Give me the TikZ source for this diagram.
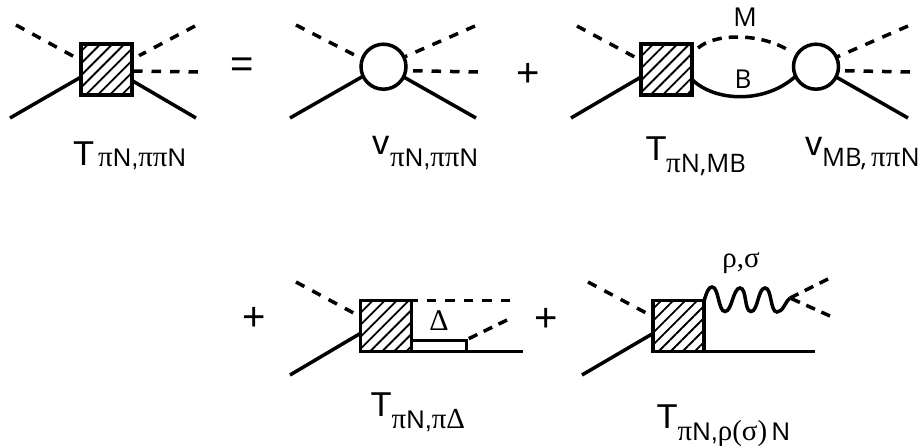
\documentclass[tikz,border=0pt]{standalone}
\usepackage{fontspec}
\setmainfont{Liberation Sans}
\newfontfamily\gk{Liberation Serif}
\newfontfamily\os{Open Sans}
\usetikzlibrary{patterns.meta}
\newcommand{\bigT}{\fontsize{34.5}{34.5}\selectfont}
\newcommand{\subt}{\fontsize{25.5}{25.5}\selectfont}
\newcommand{\pig}{{\gk\fontsize{29}{29}\selectfont π}}
\tikzset{
  x=1pt,y=-1pt,
  solidl/.style={line width=3.5pt,line cap=butt},
  dashl/.style={line width=3.5pt,dash pattern=on 9.5pt off 9pt},
  thinl/.style={line width=3pt},
  boxn/.style={draw,line width=3.6pt,outer sep=0pt,minimum size=51pt,inner sep=0pt,
    pattern={Lines[angle=45,distance=8.5pt,line width=1.8pt]}},
  circn/.style={draw,circle,line width=3.5pt,outer sep=0pt,minimum size=45pt,inner sep=0pt},
  lab/.style={inner sep=0pt,anchor=base west},
  opn/.style={inner sep=0pt,font=\fontsize{40}{40}\selectfont},
  lett/.style={inner sep=0pt,font=\fontsize{26}{26}\selectfont},
}
\begin{document}
\begin{tikzpicture}
\useasboundingbox (0,0) rectangle (919,445);
% row 1, term 1
\node[boxn] (b1) at (106.5,69.7) {};
\coordinate (a1) at (16,25); \coordinate (a2) at (10,118);
\coordinate (a3) at (195,26); \coordinate (a4) at (198,72); \coordinate (a5) at (196,118);
\draw[dashl,shorten >=7pt] (a1) -- (b1.160);
\draw[solidl] (a2) -- (b1.196);
\draw[dashl,shorten >=8pt] (a3) -- (b1.22);
\draw[dashl] (a4) -- (b1.-3);
\draw[solidl] (a5) -- (b1.-23);
\node[lab] (t1) at (73,165) {\bigT T};
\node[lab] (s1) at (98,166) {\subt\pig N,\pig\pig N};
\node[opn] (eq) at (242,68) {=};
% term 2
\node[circn] (c2) at (383.5,66.7) {};
\coordinate (d1) at (296,25); \coordinate (d2) at (290,118);
\coordinate (d3) at (475,26); \coordinate (d4) at (478,72); \coordinate (d5) at (476,118);
\draw[dashl,shorten >=7pt] (d1) -- (c2.160);
\draw[solidl] (d2) -- (c2.205);
\draw[dashl] (d3) -- (c2.25);
\draw[dashl,shorten >=5pt] (d4) -- (c2.-10);
\draw[solidl] (d5) -- (c2.-27);
\node[lab] (t2) at (372,154) {\bigT v};
\node[lab] (s2) at (390,166) {\subt\pig N,\pig\pig N};
\node[opn] (pl1) at (528,75) {+};
% term 3
\node[boxn] (b3) at (666.5,69.7) {};
\node[circn] (c3) at (816,66.7) {};
\coordinate (e1) at (577,26); \coordinate (e2) at (571,118);
\coordinate (e3) at (908,26); \coordinate (e4) at (910,72); \coordinate (e5) at (908,118);
\draw[dashl,shorten >=7pt] (e1) -- (b3.160);
\draw[solidl] (e2) -- (b3.196);
\coordinate (m1) at (698,48); \coordinate (m2) at (788,50);
\draw[line width=3.5pt,dash pattern=on 9.5pt off 7pt] (m1) .. controls (715,33) and (760,33) .. (m2);
\draw[solidl] (b3.-21) .. controls (715,102) and (765,104) .. (c3.205);
\draw[dashl] (e3) -- (c3.25);
\draw[dashl,shorten >=5pt] (e4) -- (c3.-10);
\draw[solidl] (e5) -- (c3.-27);
\node[lett] (mm) at (745,17) {\os M};
\node[lett] (bb) at (743,79) {\os B};
\node[lab] (t3) at (645.5,160) {\bigT T};
\node[lab] (s3) at (666,172) {\subt\pig{\os N,MB}};
\node[lab] (t3b) at (805,155) {\bigT v};
\node[lab] (s3b) at (822,166) {\subt{\os MB,\,}\pig\pig{\os N}};
% row 2, term 4
\node[opn] (pl2) at (254,319) {+};
\node[boxn] (b4) at (386,326) {};
\coordinate (f1) at (296,282); \coordinate (f2) at (290,375);
\coordinate (f3) at (510,300.5); \coordinate (f4) at (507,320); \coordinate (f5) at (523,351.5);
\coordinate (dl) at (413,340); \coordinate (dr) at (466,340); \coordinate (dq) at (466,351.5);
\draw[dashl,shorten >=7pt] (f1) -- (b4.160);
\draw[solidl] (f2) -- (b4.196);
\draw[dashl] (f3) -- (b4.north east);
\draw[thinl] (dl) -- (dr) -- (dq);
\draw[dashl,dash pattern=on 9.5pt off 7pt] (f4) -- (dr);
\draw[thinl] (b4.south east) -- (f5);
\node[inner sep=0pt,font=\gk\fontsize{30}{30}\selectfont] (dt) at (439,321) {Δ};
\node[lab] (t4) at (370.5,416) {\bigT T};
\node[lab] (s4) at (391.5,428) {\subt\pig N,\pig{\gk\fontsize{29}{29}\selectfont Δ}};
\node[opn] (pl3) at (546,320) {+};
% term 5
\node[boxn] (b5) at (678.7,326) {};
\coordinate (g1) at (588,282); \coordinate (g2) at (582,375);
\coordinate (g3) at (828,279); \coordinate (g4) at (830,316); \coordinate (g5) at (815,351.5);
\coordinate (w) at (790,298);
\draw[dashl,shorten >=7pt] (g1) -- (b5.160);
\draw[solidl] (g2) -- (b5.196);
\draw[thinl] (b5.south east) -- (g5);
\draw[solidl] (b5.north east) .. controls (707,291) and (709,287) .. (712,287)
  .. controls (719,287) and (718,311.5) .. (725,311.5)
  .. controls (732,311.5) and (733,288) .. (740,288)
  .. controls (747,288) and (744,311.5) .. (751,311.5)
  .. controls (758,311.5) and (758,288) .. (765,288)
  .. controls (772,288) and (770,312) .. (777,312)
  .. controls (783,312) and (785,302) .. (w);
\draw[dashl,dash pattern=on 9.5pt off 7pt] (g3) -- (w);
\draw[dashl,dash pattern=on 9.5pt off 7pt] (g4) -- (w);
\node[inner sep=0pt,font=\gk\fontsize{29}{29}\selectfont] (rs) at (741,263) {ρ,σ};
\node[lab] (t5) at (656.5,428) {\bigT T};
\node[lab] (s5) at (677.5,440) {\subt\pig N,{\gk\fontsize{29}{29}\selectfont ρ(σ)}\,N};
\end{tikzpicture}
\end{document}
